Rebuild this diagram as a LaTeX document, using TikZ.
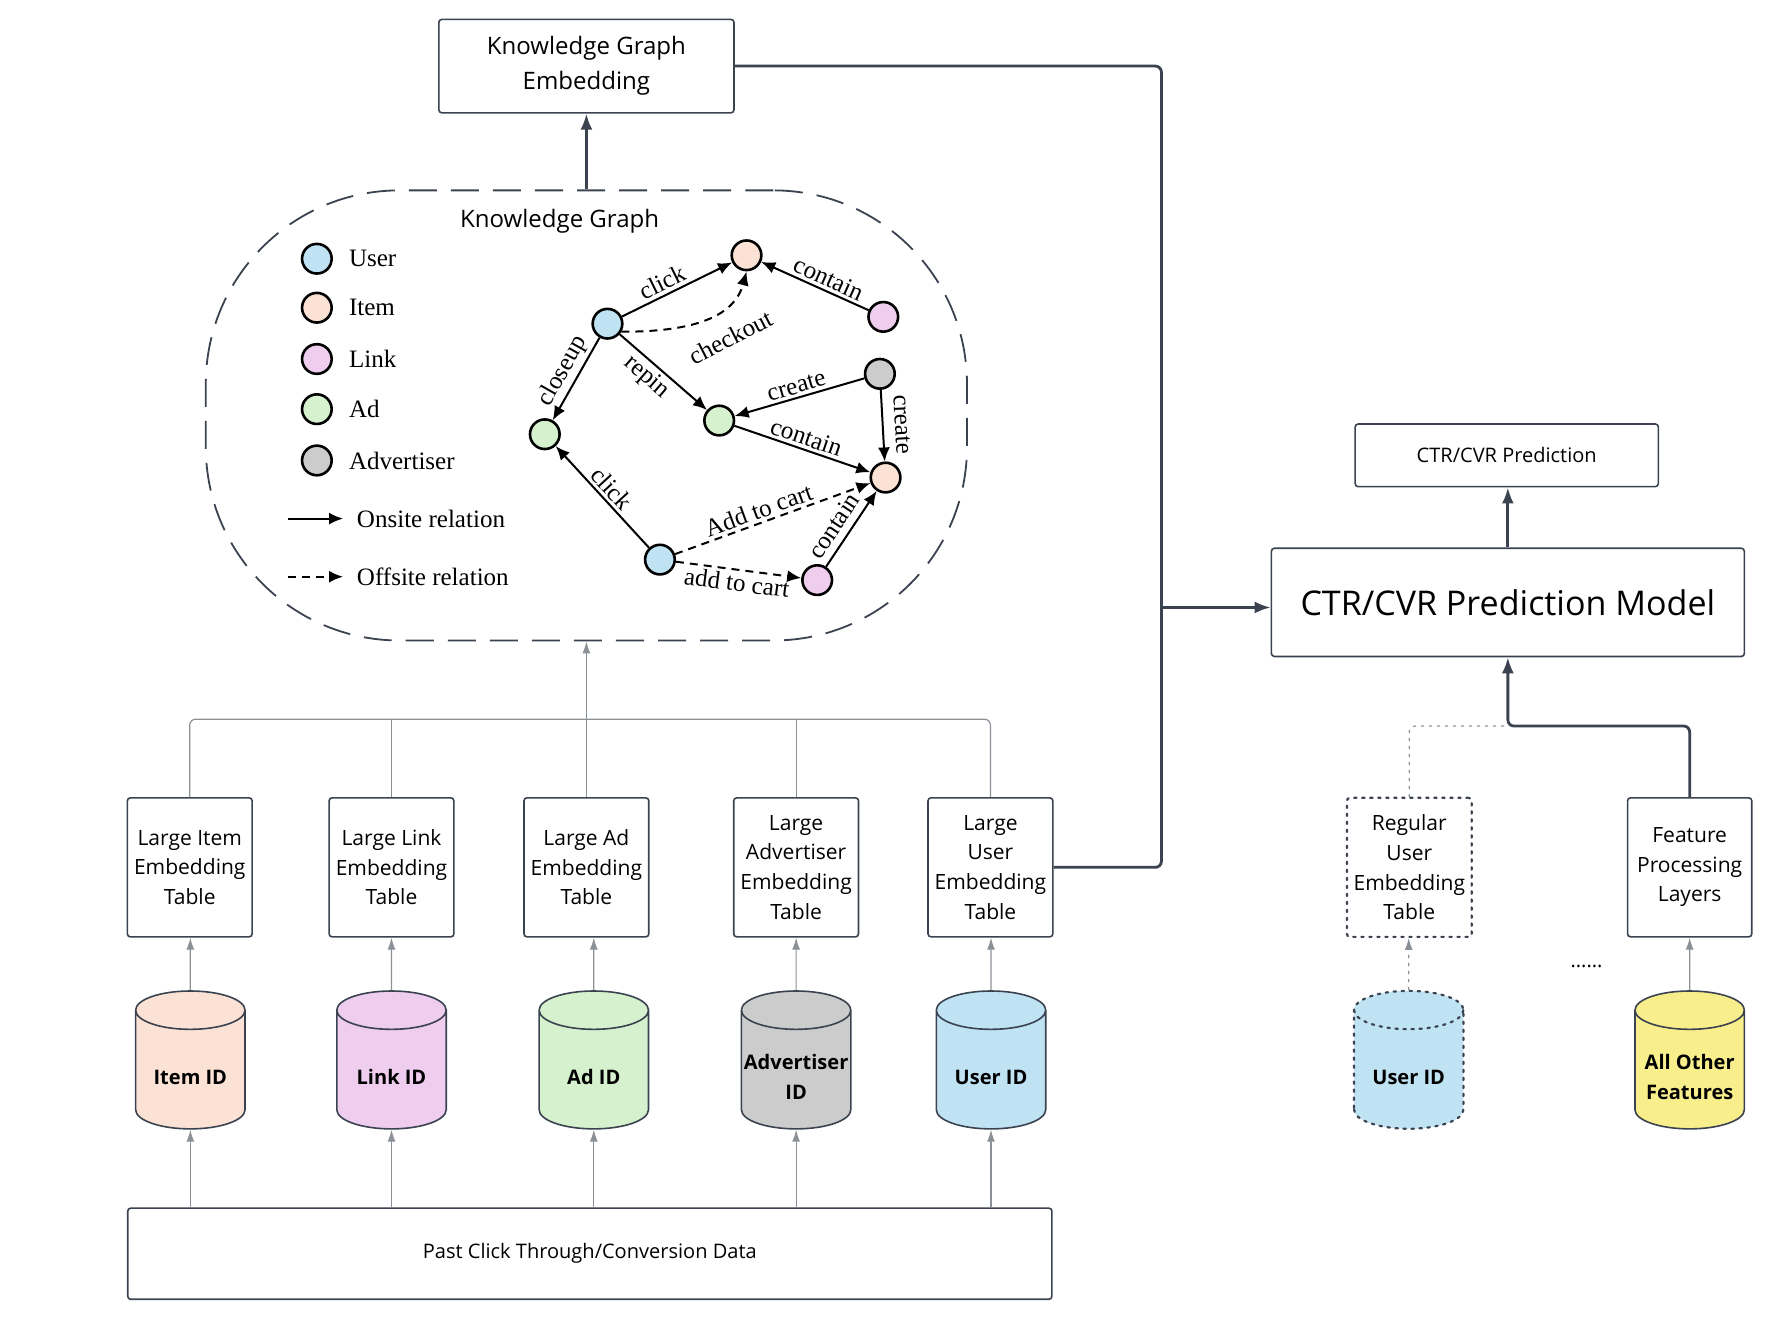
\documentclass[tikz,border=0pt]{standalone}
\usepackage{fontspec}
\setmainfont{Open Sans}
\newfontfamily\kgfont{Liberation Serif}
\usepackage{xcolor}
\usetikzlibrary{arrows.meta,positioning,shapes.geometric}
\definecolor{ln}{HTML}{3B4350}
\definecolor{ln2}{HTML}{8C9198}
\definecolor{itemc}{HTML}{FCE2D4}
\definecolor{linkc}{HTML}{EFCDEE}
\definecolor{adc}{HTML}{D6F1CE}
\definecolor{advc}{HTML}{CCCCCC}
\definecolor{userc}{HTML}{C0E3F4}
\definecolor{otherc}{HTML}{F8EE8C}

\begin{document}
\begin{tikzpicture}[x=0.02cm,y=-0.02cm,>=Stealth]
\tikzset{
  box/.style={draw=ln,line width=0.8pt,rounded corners=1.5pt,align=center,fill=white},
  tbl/.style={box,minimum width=2.18cm,minimum height=2.44cm,font=\fontsize{10.5}{14.8}\selectfont},
  dots/.style={dash pattern=on 1.2pt off 2.8pt,line cap=round,line width=1.1pt},
  db/.style={cylinder,shape border rotate=90,aspect=0.5,draw=ln,line width=0.8pt,inner sep=1pt,
    minimum width=1.92cm,minimum height=2.42cm,font=\bfseries\fontsize{10}{14.8}\selectfont},
  dbtxt/.style={align=center,yshift=-0.08cm,font=\bfseries\fontsize{10}{14.8}\selectfont},
  ent/.style={circle,draw=black,line width=1.3pt,minimum size=0.52cm,inner sep=0pt},
  rel/.style={-{Latex[length=7pt,width=6pt]},line width=1pt,black},
  off/.style={rel,dash pattern=on 4pt off 3pt},
  kgtxt/.style={font=\kgfont\fontsize{12.5}{14}\selectfont},
  lbl/.style={kgtxt,sloped,inner sep=1.5pt},
  thk/.style={draw=ln,line width=1.4pt,rounded corners=3pt},
  thkarr/.style={thk,-{Latex[length=8pt,width=6pt]}},
  thn/.style={draw=ln2,line width=0.6pt,rounded corners=3pt},
  thnarr/.style={thn,-{Latex[length=6pt,width=4pt]}}
}
\fill[white] (0,0) rectangle (1560,1158);

\node[box,minimum width=5.18cm,minimum height=1.64cm,font=\fontsize{12}{17.6}\selectfont] (kge) at (514.5,58) {Knowledge Graph\\Embedding};
\node[draw=ln,line width=0.9pt,dash pattern=on 14pt off 7pt,rounded corners=3.4cm,
  minimum width=13.36cm,minimum height=7.9cm] (kg) at (514.5,364.5) {};
\node[font=\fontsize{12}{14}\selectfont] (kgt) at (491,194) {Knowledge Graph};

% legend
\foreach \y/\c/\t in {227/userc/User,270/itemc/Item,315/linkc/Link,359/adc/Ad,404/advc/Advertiser}{
  \node[ent,fill=\c] (k\t) at (278,\y) {};
  \node[kgtxt,anchor=west] (k\t l) at (300,\y) {\t};
}
\coordinate (on1) at (253,455);
\coordinate (on2) at (301,455);
\coordinate (off1) at (253,506);
\coordinate (off2) at (301,506);
\draw[rel] (on1) -- (on2);
\draw[off] (off1) -- (off2);
\node[kgtxt,anchor=west] (onl) at (307,455) {Onsite relation};
\node[kgtxt,anchor=west] (offl) at (307,506) {Offsite relation};

% graph
\node[ent,fill=userc] (u1) at (533,284) {};
\node[ent,fill=itemc] (i1) at (655,224) {};
\node[ent,fill=linkc] (l1) at (775,278) {};
\node[ent,fill=adc] (a1) at (478,381) {};
\node[ent,fill=adc] (a2) at (631,369) {};
\node[ent,fill=advc] (v1) at (772,328) {};
\node[ent,fill=itemc] (i2) at (777,419) {};
\node[ent,fill=userc] (u2) at (579,491) {};
\node[ent,fill=linkc] (l2) at (717,509) {};

\draw[rel] (u1) -- node[lbl,above,pos=0.42] {click} (i1);
\draw[off] (u1.-30) to[out=0,in=-105] (i1.-90);
\node[kgtxt,rotate=27] (ckl) at (641,296) {checkout};
\draw[rel] (l1) -- node[lbl,above,pos=0.42] {contain} (i1);
\draw[rel] (u1) -- node[lbl,above] {closeup} (a1);
\draw[rel] (u1) -- node[lbl,below,pos=0.42] {repin} (a2);
\draw[rel] (v1) -- node[lbl,above] {create} (a2);
\draw[rel] (a2) -- node[lbl,above] {contain} (i2);
\draw[rel] (v1) -- node[lbl,above=4pt] {create} (i2);
\draw[rel] (u2) -- node[lbl,above] {click} (a1);
\draw[off] (u2) -- node[lbl,above,pos=0.45] {Add to cart} (i2);
\draw[off] (u2) -- node[lbl,below] {add to cart} (l2);
\draw[rel] (l2) -- node[lbl,above=2pt,pos=0.42] {contain} (i2);

% tables
\node[tbl] (tItem) at (166.5,761) {Large Item\\Embedding\\Table};
\node[tbl] (tLink) at (343.5,761) {Large Link\\Embedding\\Table};
\node[tbl] (tAd) at (514.5,761) {Large Ad\\Embedding\\Table};
\node[tbl] (tAdv) at (698.5,761) {Large\\Advertiser\\Embedding\\Table};
\node[tbl] (tUser) at (869,761) {Large\\User\\Embedding\\Table};
\node[tbl,dots] (tReg) at (1236.5,761) {Regular\\User\\Embedding\\Table};
\node[tbl] (feat) at (1482.5,761) {Feature\\Processing\\Layers};

% id stores
\foreach \n/\x/\c/\t in {cItem/167/itemc/Item ID,cLink/343.5/linkc/Link ID,cAd/521/adc/Ad ID,
    cAdv/698.5/advc/Advertiser\\ID,cUser/869.5/userc/User ID,cAll/1482.5/otherc/All Other\\Features}{
  \node[db,fill=\c] (\n) at (\x,941) {\phantom{User ID}};
  \node[dbtxt] (\n t) at (\n) {\t};
}
\node[db,fill=userc,dots] (cUid) at (1236,941) {\phantom{User ID}};
\node[dbtxt] (cUid t) at (cUid) {User ID};
\node[font=\fontsize{10}{12}\selectfont] (more) at (1392,848) {......};

\node[box,minimum width=16.22cm,minimum height=1.6cm,font=\fontsize{10}{12}\selectfont] (past) at (517.5,1100) {Past Click Through/Conversion Data};

\foreach \c/\t in {cItem/tItem,cLink/tLink,cAd/tAd,cAdv/tAdv,cUser/tUser}{
  \draw[thnarr] (past.north -| \c) -- (\c);
  \draw[thnarr] (\c) -- (\c |- \t.south);
}
\draw[thnarr,dots,line width=0.6pt] (cUid) -- (cUid |- tReg.south);
\draw[thnarr] (cAll) -- (cAll |- feat.south);

% to the knowledge graph
\coordinate (bus) at (514.5,631);
\draw[thn] (tItem.north) |- (bus) -| (tUser.north);
\draw[thn] (tLink.north) -- (tLink.north |- bus);
\draw[thn] (tAdv.north) -- (tAdv.north |- bus);
\draw[thnarr] (tAd.north) -- (kg.south);
\draw[thkarr] (kg.north) -- (kge.south);

% prediction side
\node[box,minimum width=8.3cm,minimum height=1.9cm,font=\fontsize{17}{20}\selectfont] (model) at (1323,528.5) {CTR/CVR Prediction Model};
\node[box,minimum width=5.32cm,minimum height=1.1cm,font=\fontsize{10}{12}\selectfont] (pred) at (1322,399.5) {CTR/CVR Prediction};
\coordinate (jn) at (1019,533);
\coordinate (mj) at (1323,637);
\draw[thk] (kge.east) -| (jn) |- (tUser.east);
\draw[thkarr] (jn) -- (jn -| model.west);
\draw[thkarr] (model.north) -- (model.north |- pred.south);
\draw[thkarr] (feat.north) |- (mj) -- (model.south);
\draw[thn,dots,line width=0.6pt] (tReg.north) |- (mj);
\end{tikzpicture}
\end{document}
